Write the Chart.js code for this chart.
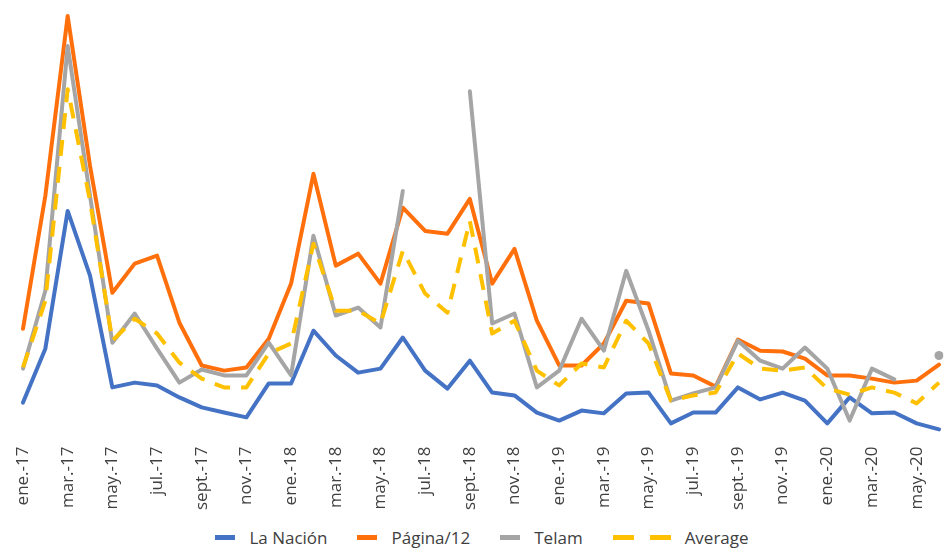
<!DOCTYPE html>
<html lang="es">
<head>
<meta charset="utf-8">
<title>La Nación, Página/12, Telam</title>
<script src="https://cdn.jsdelivr.net/npm/chart.js@4.4.1/dist/chart.umd.min.js"></script>
<style>
  html, body { margin: 0; padding: 0; background: #ffffff; }
  #wrap { position: relative; width: 944px; height: 551px; overflow: hidden; font-family: "Open Sans", sans-serif; }
  #box { position: absolute; left: 0; top: 0; width: 944px; height: 521px; }
  #legend {
    position: absolute; left: 0; top: 524px; width: 944px; height: 26px;
    box-sizing: border-box; padding-left: 20px;
    display: flex; justify-content: center; align-items: center;
    font-size: 17px; color: #404040;
  }
  .item { display: flex; align-items: center; margin: 0 15px; }
  .swatch { width: 20px; height: 5px; margin-right: 14px; }
  .dash { display: flex; margin-right: 14px; }
  .dash span { width: 21px; height: 5px; background: #FFC000; }
  .dash span + span { margin-left: 16px; }
</style>
</head>
<body>
<div id="wrap">
  <div id="box"><canvas id="chart"></canvas></div>
  <div id="legend">
    <div class="item"><div class="swatch" style="background:#4472C4"></div>La Nación</div>
    <div class="item"><div class="swatch" style="background:#FF700D"></div>Página/12</div>
    <div class="item"><div class="swatch" style="background:#A5A5A5"></div>Telam</div>
    <div class="item"><div class="dash"><span></span><span></span></div>Average</div>
  </div>
</div>
<script>
// Months from January 2017 to June 2020
const months = [
  "ene.-17","feb.-17","mar.-17","abr.-17","may.-17","jun.-17","jul.-17","ago.-17","sept.-17","oct.-17","nov.-17","dic.-17",
  "ene.-18","feb.-18","mar.-18","abr.-18","may.-18","jun.-18","jul.-18","ago.-18","sept.-18","oct.-18","nov.-18","dic.-18",
  "ene.-19","feb.-19","mar.-19","abr.-19","may.-19","jun.-19","jul.-19","ago.-19","sept.-19","oct.-19","nov.-19","dic.-19",
  "ene.-20","feb.-20","mar.-20","abr.-20","may.-20","jun.-20"
];

const laNacion = [
  9.5, 23.0, 57.5, 41.3, 13.3, 14.5, 13.8, 10.8, 8.3, 7.0, 5.8, 14.3,
  14.3, 27.5, 21.3, 17.0, 18.0, 25.8, 17.5, 13.0, 20.0, 12.0, 11.3, 7.0,
  5.0, 7.5, 6.8, 11.8, 12.0, 4.3, 7.0, 7.0, 13.3, 10.3, 12.0, 10.0,
  4.3, 10.8, 6.8, 7.0, 4.3, 2.8
];

const pagina12 = [
  28.0, 61.3, 106.3, 68.8, 37.0, 44.3, 46.3, 29.5, 18.8, 17.5, 18.3, 25.5,
  39.3, 66.8, 43.8, 46.8, 39.3, 58.3, 52.5, 51.8, 60.5, 39.3, 48.0, 30.0,
  18.8, 18.8, 24.3, 35.0, 34.3, 16.8, 16.3, 13.5, 25.3, 22.5, 22.3, 20.5,
  16.3, 16.3, 15.5, 14.5, 15.0, 19.0
];

// Telam has no figures for jul.-18, ago.-18 and may.-20
const telam = [
  18.0, 37.5, 98.8, 61.3, 24.5, 31.8, 23.0, 14.5, 17.8, 16.3, 16.3, 24.5,
  16.3, 51.3, 31.3, 33.3, 28.3, 62.5, null, null, 87.5, 29.3, 31.8, 13.3,
  17.5, 30.5, 22.5, 42.5, 27.5, 10.0, 11.8, 13.3, 25.0, 20.0, 18.0, 23.3,
  18.0, 5.0, 18.0, 15.3, null, 21.3
];

const average = [
  18.3, 35.0, 88.0, 60.0, 25.0, 30.5, 26.8, 19.5, 15.5, 13.3, 13.3, 21.8,
  24.3, 49.3, 32.5, 32.5, 29.3, 47.5, 36.8, 32.0, 55.0, 26.8, 30.0, 17.5,
  13.8, 19.3, 18.3, 30.0, 24.3, 10.0, 11.3, 12.0, 21.8, 18.0, 17.5, 18.3,
  13.0, 11.5, 13.3, 12.0, 9.3, 14.5
];

// A lone Telam value (with gaps on both sides) still gets a visible dot
const telamPointRadius = telam.map((v, i) =>
  v !== null && (telam[i - 1] == null) && (telam[i + 1] == null) ? 4.5 : 0);

const solid = (label, data, color, order) => ({
  label, data, order,
  borderColor: color,
  backgroundColor: color,
  borderWidth: 4,
  borderJoinStyle: 'round',
  borderCapStyle: 'round',
  pointRadius: 0,
  pointHoverRadius: 0,
  tension: 0,
  spanGaps: false,
  fill: false
});

const telamSet = solid('Telam', telam, '#A5A5A5', 2);
telamSet.pointRadius = telamPointRadius;
telamSet.pointBorderWidth = 0;
telamSet.pointBackgroundColor = '#A5A5A5';

new Chart(document.getElementById('chart'), {
  type: 'line',
  data: {
    labels: months,
    datasets: [
      solid('La Nación', laNacion, '#4472C4', 4),
      solid('Página/12', pagina12, '#FF700D', 3),
      telamSet,
      {
        label: 'Average', data: average, order: 1,
        borderColor: '#FFC000', backgroundColor: '#FFC000',
        borderWidth: 4, borderDash: [16, 11], borderCapStyle: 'butt',
        borderJoinStyle: 'round',
        pointRadius: 0, pointHoverRadius: 0, tension: 0, fill: false
      }
    ]
  },
  options: {
    responsive: true,
    maintainAspectRatio: false,
    animation: false,
    events: [],
    layout: { padding: { left: 23, right: 5, top: 0, bottom: 5 } },
    plugins: {
      legend: { display: false },
      tooltip: { enabled: false }
    },
    scales: {
      x: {
        offset: false,
        grid: { display: false, drawTicks: false },
        border: { display: false },
        // the rotated labels need no extra side room
        afterFit(scale) { scale.paddingLeft = 0; scale.paddingRight = 0; },
        ticks: {
          autoSkip: false,
          minRotation: 90,
          maxRotation: 90,
          padding: 6,
          color: '#404040',
          font: { family: 'Open Sans', size: 17 },
          callback: function (value, index) {
            return index % 2 === 0 ? this.getLabelForValue(value) : '';
          }
        }
      },
      y: {
        display: false,
        min: 0,
        max: 109.2
      }
    }
  }
});
</script>
</body>
</html>
